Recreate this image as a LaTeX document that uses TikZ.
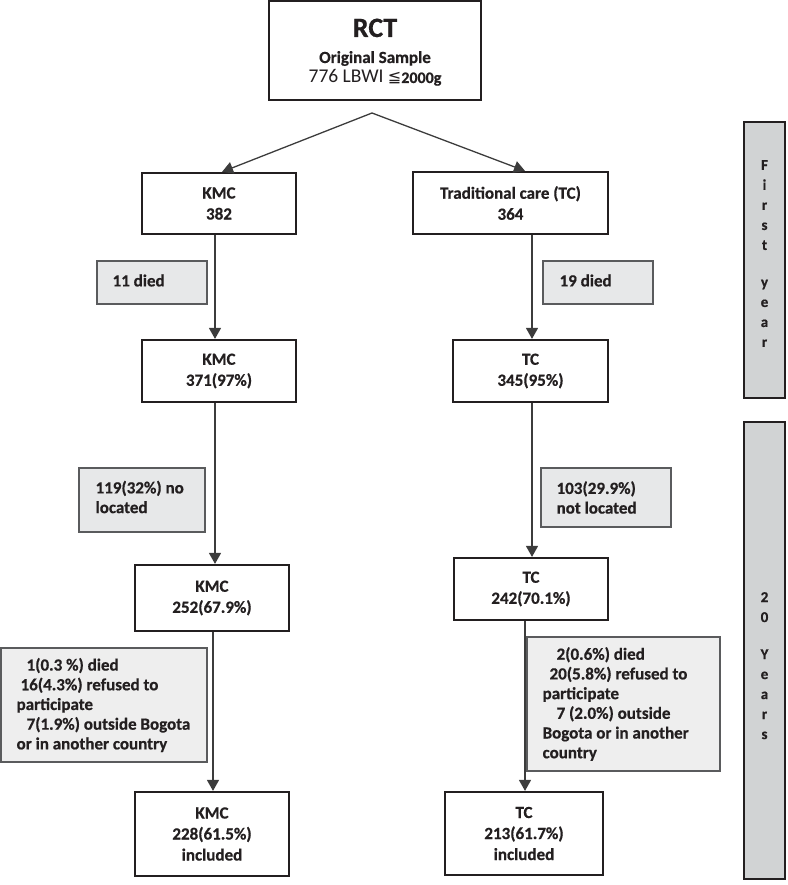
\documentclass[tikz,border=0pt]{standalone}
\usepackage{fontspec}
\setmainfont{Carlito}[BoldFeatures={FakeBold=0.6}]
\newfontfamily\symfam{DejaVu Sans}
\usetikzlibrary{arrows.meta}
\definecolor{ink}{HTML}{231F20}
\definecolor{gline}{HTML}{5A5B5D}
\definecolor{gfill}{HTML}{E7E8E9}
\definecolor{gfilltwo}{HTML}{EEEEEE}
\definecolor{barfill}{HTML}{D1D3D4}
\definecolor{conn}{HTML}{3C3C3C}
\begin{document}
\begin{tikzpicture}[x=1pt,y=-1pt,
  wbox/.style={draw=ink, line width=2.2pt, fill=white, align=center, inner sep=0pt, text=ink,
    font=\bfseries\fontsize{17}{21}\selectfont},
  gbox/.style={draw=gline, line width=1.2pt, fill=gfill, inner sep=0pt},
  gtext/.style={anchor=west, align=left, inner sep=0pt, text=ink,
    font=\bfseries\fontsize{17}{19.7}\selectfont},
  sidebar/.style={draw=ink, line width=2pt, fill=barfill, inner sep=0pt},
  bartext/.style={anchor=north, align=center, inner sep=0pt, text=ink, font=\bfseries\fontsize{15}{20}\selectfont},
  arr/.style={draw=conn, line width=1.3pt, -{Triangle[width=12pt,length=11pt]}},
]
\useasboundingbox (0,0) rectangle (787,885);

% top box
\node[wbox, minimum width=212, minimum height=99] (rct) at (375,50.5) {};
\node[anchor=base, inner sep=0pt, text=ink, font=\bfseries\fontsize{28}{28}\selectfont] (rctA) at (375,37) {RCT};
\node[anchor=base, inner sep=0pt, text=ink, font=\bfseries\fontsize{17}{17}\selectfont] (rctB) at (375,63) {Original Sample};
\node[anchor=base, inner sep=0pt, text=ink, font=\fontsize{19.5}{19.5}\selectfont] (rctC) at (375,83)
  {776 LBWI {\symfam\fontsize{16}{16}\selectfont ≦}{\bfseries\fontsize{16}{16}\selectfont 2000g}};
\coordinate (split) at (372,113);

% first level
\node[wbox, minimum width=154, minimum height=61] (kmc1) at (219,203.5) {KMC\\382};
\node[wbox, minimum width=195, minimum height=62] (tc1) at (510.5,203) {Traditional care (TC)\\364};

\node[gbox, minimum width=110, minimum height=43] (d11) at (152,282.5) {};
\node[gtext] (d11t) at ([xshift=16pt,yshift=2pt]d11.west) {11 died};
\node[gbox, minimum width=110, minimum height=43] (d19) at (598,282.5) {};
\node[gtext] (d19t) at ([xshift=17pt,yshift=2pt]d19.west) {19 died};

\node[wbox, minimum width=154, minimum height=62] (kmc2) at (219,371) {KMC\\371(97\%)};
\node[wbox, minimum width=155, minimum height=62] (tc2) at (530.5,371) {TC\\345(95\%)};

\node[gbox, minimum width=126, minimum height=64] (n119) at (142,500) {};
\node[gtext] (n119t) at ([xshift=17pt,yshift=3pt]n119.west) {119(32\%) no\\located};
\node[gbox, minimum width=130, minimum height=59] (n103) at (606,497.5) {};
\node[gtext] (n103t) at ([xshift=16pt]n103.west) {103(29.9\%)\\not located};

\node[wbox, minimum width=154, minimum height=66] (kmc3) at (212,598) {KMC\\252(67.9\%)};
\node[wbox, minimum width=154, minimum height=62] (tc3) at (531,589) {TC\\242(70.1\%)};

\node[gbox, fill=gfilltwo, minimum width=206, minimum height=114] (o1) at (104,705) {};
\node[gtext] (o1t) at ([xshift=16pt]o1.west)
  {\hspace*{10pt}1(0.3 \%) died\\\hspace*{4pt}16(4.3\%) refused to\\participate\\\hspace*{10pt}7(1.9\%) outside Bogota\\or in another country};
\node[gbox, fill=gfilltwo, minimum width=193, minimum height=134] (o2) at (623.5,704) {};
\node[gtext] (o2t) at ([xshift=16pt]o2.west)
  {\hspace*{14pt}2(0.6\%) died\\\hspace*{7pt}20(5.8\%) refused to\\participate\\\hspace*{14pt}7 (2.0\%) outside\\Bogota or in another\\country};

\node[wbox, minimum width=154, minimum height=84] (kmc4) at (212,834) {KMC\\228(61.5\%)\\included};
\node[wbox, minimum width=158, minimum height=83] (tc4) at (524,833.5) {TC\\213(61.7\%)\\included};

% side bars
\node[sidebar, minimum width=41, minimum height=276] (fy) at (764.5,260) {};
\node[bartext] (fyt) at (764.5,160) {F\\i\\r\\s\\t\\[17pt]y\\e\\a\\r};
\node[sidebar, minimum width=41, minimum height=457] (yrs) at (764.5,650.5) {};
\node[bartext] (yrst) at (764.5,592) {2\\0\\[17pt]Y\\e\\a\\r\\s};

% connectors
\draw[arr] (split) -- ([xshift=3pt]kmc1.north);
\draw[arr] (split) -- ([xshift=14.5pt]tc1.north);
\draw[arr] ([xshift=-4pt]kmc1.south) -- ([xshift=-4pt]kmc2.north);
\draw[arr] ([xshift=1.5pt]tc2.north |- tc1.south) -- ([xshift=1.5pt]tc2.north);
\draw[arr] ([xshift=-4pt]kmc2.south) -- ([xshift=3pt]kmc3.north);
\draw[arr] ([xshift=1.5pt]tc2.south) -- ([xshift=1pt]tc3.north);
\draw[arr] ([xshift=1pt]kmc3.south) -- ([xshift=1pt]kmc4.north);
\draw[arr] ([xshift=-6pt]tc3.south) -- ([xshift=1pt]tc4.north);
\end{tikzpicture}
\end{document}
